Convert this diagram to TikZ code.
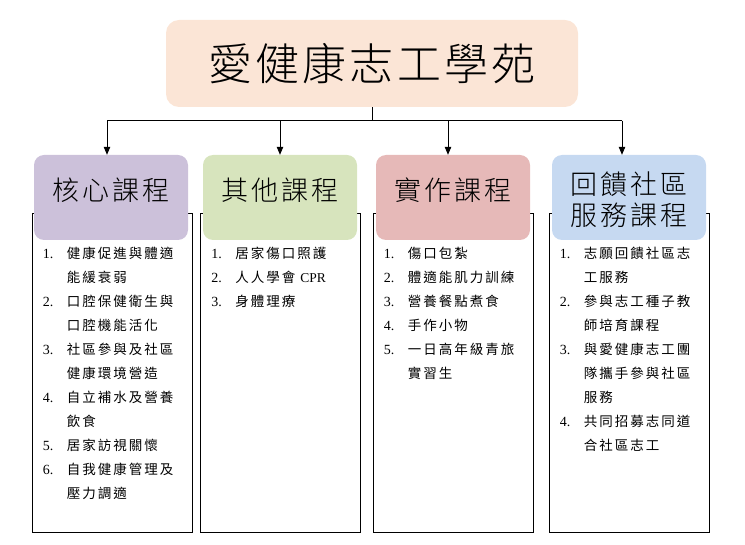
\documentclass[tikz,border=0pt]{standalone}
\usepackage{fontspec}
\setmainfont{Liberation Serif}
\newfontfamily\cjktitle[LetterSpace=7]{Noto Sans CJK TC Light}
\newfontfamily\cjkhead[LetterSpace=11]{Noto Sans CJK TC Light}
\newfontfamily\cjklist[LetterSpace=15]{Noto Sans CJK TC}
\usepackage{tikz}
\usetikzlibrary{arrows.meta,positioning}
\definecolor{titlefill}{HTML}{FBE5D6}
\definecolor{corefill}{HTML}{CCC1DA}
\definecolor{otherfill}{HTML}{D7E4BD}
\definecolor{practicefill}{HTML}{E6B9B8}
\definecolor{servicefill}{HTML}{C6D9F1}
\tikzstyle{head} = [fill=titlefill,rounded corners=13pt,minimum width=412pt,minimum height=87pt,inner sep=0,font=\cjktitle\fontsize{44}{44}\selectfont]
\tikzstyle{course} = [rounded corners=10pt,minimum width=154pt,minimum height=85pt,inner sep=0]
\tikzstyle{coursename} = [inner sep=0,align=center,font=\cjkhead\fontsize{27}{31}\selectfont]
\tikzstyle{listbox} = [draw,line width=0.8pt,minimum width=160pt,minimum height=319pt,inner sep=0]
\tikzstyle{items} = [anchor=north west,inner sep=0,font=\cjklist\fontsize{13.5}{24}\selectfont]
\tikzstyle{wire} = [line width=0.8pt]
\tikzstyle{link} = [wire,-{Triangle[length=8pt,width=6.5pt]}]
\newcommand{\itemno}[1]{{\rmfamily\fontsize{14}{24}\selectfont #1.}}
\newcommand{\itemrows}[1]{\begin{tabular}{@{}p{24pt}@{}l@{}}#1\end{tabular}}
\def \listtop {241.3}

\begin{document}
\begin{tikzpicture}[x=1pt,y=-1pt]
  \useasboundingbox (0,0) rectangle (745,545);
  % title
  \node[head] (title) at (372,63.5) {愛健康志工學苑};
  % list boxes (behind the headings)
  \node[listbox] (corelist) at (112,372.5) {};
  \node[listbox] (otherlist) at (280.5,372.5) {};
  \node[listbox] (practicelist) at (453,372.5) {};
  \node[listbox] (servicelist) at (629,372.5) {};
  % headings
  \node[course,fill=corefill] (core) at (111,197.5) {};
  \node[course,fill=otherfill] (other) at (280,197.5) {};
  \node[course,fill=practicefill] (practice) at (453,197.5) {};
  \node[course,fill=servicefill] (service) at (629,197.5) {};
  \node[coursename] (corename) at (111,190) {核心課程};
  \node[coursename] (othername) at (280,190) {其他課程};
  \node[coursename] (practicename) at (453,190) {實作課程};
  \node[coursename] (servicename) at (629,199.5) {回饋社區\\服務課程};
  % connectors
  \draw[wire] (title.south) -- ++(0,13.5) coordinate (split);
  \coordinate (a1) at ([xshift=-4pt]core.north);
  \coordinate (a2) at (other.north);
  \coordinate (a3) at ([xshift=-5pt]practice.north);
  \coordinate (a4) at ([xshift=-7pt]service.north);
  \draw[wire] (a1 |- split) -- (a4 |- split);
  \foreach \a in {a1,a2,a3,a4}
    \draw[link] (\a |- split) -- (\a);
  % lists
  \node[items] (coreitems) at ([xshift=11pt]corelist.west |- 0,\listtop) {\itemrows{
    \itemno1 & 健康促進與體適 \\
     & 能緩衰弱 \\
    \itemno2 & 口腔保健衛生與 \\
     & 口腔機能活化 \\
    \itemno3 & 社區參與及社區 \\
     & 健康環境營造 \\
    \itemno4 & 自立補水及營養 \\
     & 飲食 \\
    \itemno5 & 居家訪視關懷 \\
    \itemno6 & 自我健康管理及 \\
     & 壓力調適 \\}};
  \node[items] (otheritems) at ([xshift=11pt]otherlist.west |- 0,\listtop) {\itemrows{
    \itemno1 & 居家傷口照護 \\
    \itemno2 & 人人學會 {\rmfamily CPR} \\
    \itemno3 & 身體理療 \\}};
  \node[items] (practiceitems) at ([xshift=11pt]practicelist.west |- 0,\listtop) {\itemrows{
    \itemno1 & 傷口包紮 \\
    \itemno2 & 體適能肌力訓練 \\
    \itemno3 & 營養餐點煮食 \\
    \itemno4 & 手作小物 \\
    \itemno5 & 一日高年級青旅 \\
     & 實習生 \\}};
  \node[items] (serviceitems) at ([xshift=11pt]servicelist.west |- 0,\listtop) {\itemrows{
    \itemno1 & 志願回饋社區志 \\
     & 工服務 \\
    \itemno2 & 參與志工種子教 \\
     & 師培育課程 \\
    \itemno3 & 與愛健康志工團 \\
     & 隊攜手參與社區 \\
     & 服務 \\
    \itemno4 & 共同招募志同道 \\
     & 合社區志工 \\}};
\end{tikzpicture}
\end{document}
